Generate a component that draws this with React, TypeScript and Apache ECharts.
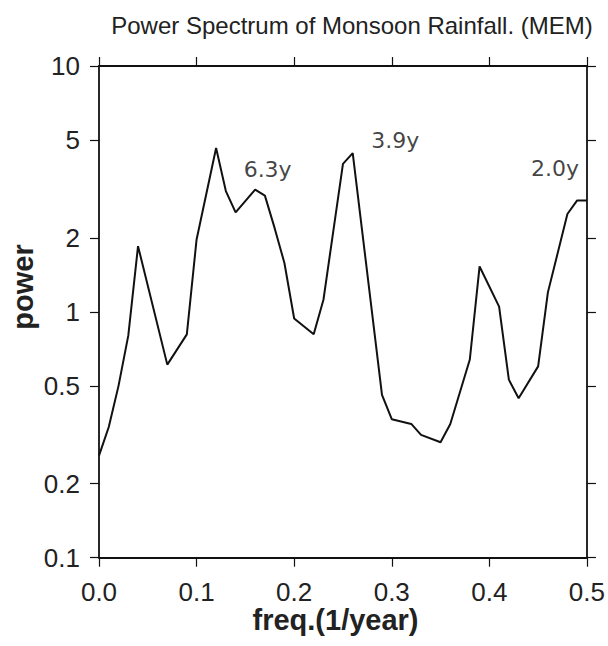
import React, { useEffect, useRef } from "react";
import * as echarts from "echarts";

const freq = [0, 0.01, 0.02, 0.03, 0.04, 0.07, 0.09, 0.10, 0.12, 0.13, 0.14, 0.16, 0.17, 0.18, 0.19, 0.20, 0.22, 0.23, 0.25, 0.26, 0.29, 0.30, 0.32, 0.33, 0.35, 0.36, 0.38, 0.39, 0.41, 0.42, 0.43, 0.45, 0.46, 0.48, 0.49, 0.50];
const power = [0.26, 0.34, 0.5, 0.8, 1.85, 0.61, 0.81, 1.97, 4.64, 3.1, 2.54, 3.14, 2.97, 2.19, 1.58, 0.94, 0.81, 1.12, 4.0, 4.42, 0.46, 0.366, 0.35, 0.316, 0.295, 0.35, 0.64, 1.53, 1.05, 0.53, 0.445, 0.6, 1.2, 2.5, 2.84, 2.84];

const yTickValues = [0.1, 0.2, 0.5, 1, 2, 5, 10];
const yTickLabels = ["0.1", "0.2", "0.5", "1", "2", "5", "10"];

const annotLabels = ["6.3y", "3.9y", "2.0y"];
const annotFreq = [0.1728, 0.3036, 0.4674];
const annotPower = [3.8, 4.98, 3.82];

const titleText = "Power Spectrum of Monsoon Rainfall. (MEM)";
const xName = "freq.(1/year)";
const yName = "power";

export default function App() {
  const ref = useRef<HTMLDivElement>(null);
  useEffect(() => {
    document.body.style.margin = "0";
    const chart = echarts.init(ref.current!, null, { renderer: "svg" });
    const logTicks = yTickValues.map((v) => Math.round(Math.log10(v) * 1e9) / 1e9);
    const fmtY = (v: number) => {
      let best = 0;
      logTicks.forEach((t, i) => {
        if (Math.abs(t - v) < Math.abs(logTicks[best] - v)) best = i;
      });
      return yTickLabels[best];
    };
    const axisLine = { show: true, onZero: false, lineStyle: { color: "#111", width: 1.8 } };
    const tick = { show: true, inside: false, length: 9, lineStyle: { color: "#111", width: 1.2 } };
    const labelFont = { fontFamily: "Liberation Sans", fontSize: 26, lineHeight: 26, color: "#222" };
    chart.setOption({
      animation: false,
      grid: { left: 99, right: 20, top: 66, bottom: 88.3 },
      xAxis: [
        {
          type: "value", min: 0, max: 0.5, interval: 0.1, position: "bottom",
          axisLine, axisTick: tick, splitLine: { show: false },
          axisLabel: { ...labelFont, margin: 21, formatter: (v: number) => v.toFixed(1) },
        },
        {
          type: "value", min: 0, max: 0.5, interval: 0.1, position: "top",
          axisLine, axisTick: tick, splitLine: { show: false },
          axisLabel: { show: false },
        },
      ],
      yAxis: [
        { type: "log", logBase: 10, min: 0.1, max: 10, show: false },
        {
          type: "value", min: -1, max: 1, position: "left",
          axisLine, splitLine: { show: false },
          axisTick: { ...tick, customValues: logTicks },
          axisLabel: { ...labelFont, margin: 19, customValues: logTicks, formatter: fmtY },
        },
        {
          type: "value", min: -1, max: 1, position: "right",
          axisLine, splitLine: { show: false },
          axisTick: { ...tick, customValues: logTicks },
          axisLabel: { show: false, customValues: logTicks },
        },
      ],
      series: [
        {
          type: "line", xAxisIndex: 0, yAxisIndex: 0,
          data: freq.map((f, i) => [f, power[i]]),
          showSymbol: false, symbol: "none",
          lineStyle: { color: "#111", width: 2 },
        },
        {
          type: "scatter", xAxisIndex: 0, yAxisIndex: 0,
          data: annotFreq.map((f, i) => [f, annotPower[i]]),
          symbolSize: 0,
          label: {
            show: true, position: "inside",
            formatter: (p: any) => annotLabels[p.dataIndex],
            fontFamily: "DejaVu Sans", fontSize: 22, color: "#111",
          },
        },
      ],
      graphic: [
        {
          type: "text", x: 352, y: 25,
          style: { text: titleText, fontFamily: "Liberation Sans", fontSize: 24, fill: "#222", align: "center", verticalAlign: "middle" },
        },
        {
          type: "text", x: 335.5, y: 620,
          style: { text: xName, fontFamily: "Liberation Sans", fontWeight: "bold", fontSize: 29, lineHeight: 29, fill: "#222", align: "center", verticalAlign: "middle" },
        },
        {
          type: "text", x: 23, y: 287, rotation: Math.PI / 2,
          style: { text: yName, fontFamily: "Liberation Sans", fontWeight: "bold", fontSize: 29, fill: "#222", align: "center", verticalAlign: "middle" },
        },
      ],
    });
    return () => chart.dispose();
  }, []);
  return <div ref={ref} style={{ width: 608, height: 646 }} />;
}
